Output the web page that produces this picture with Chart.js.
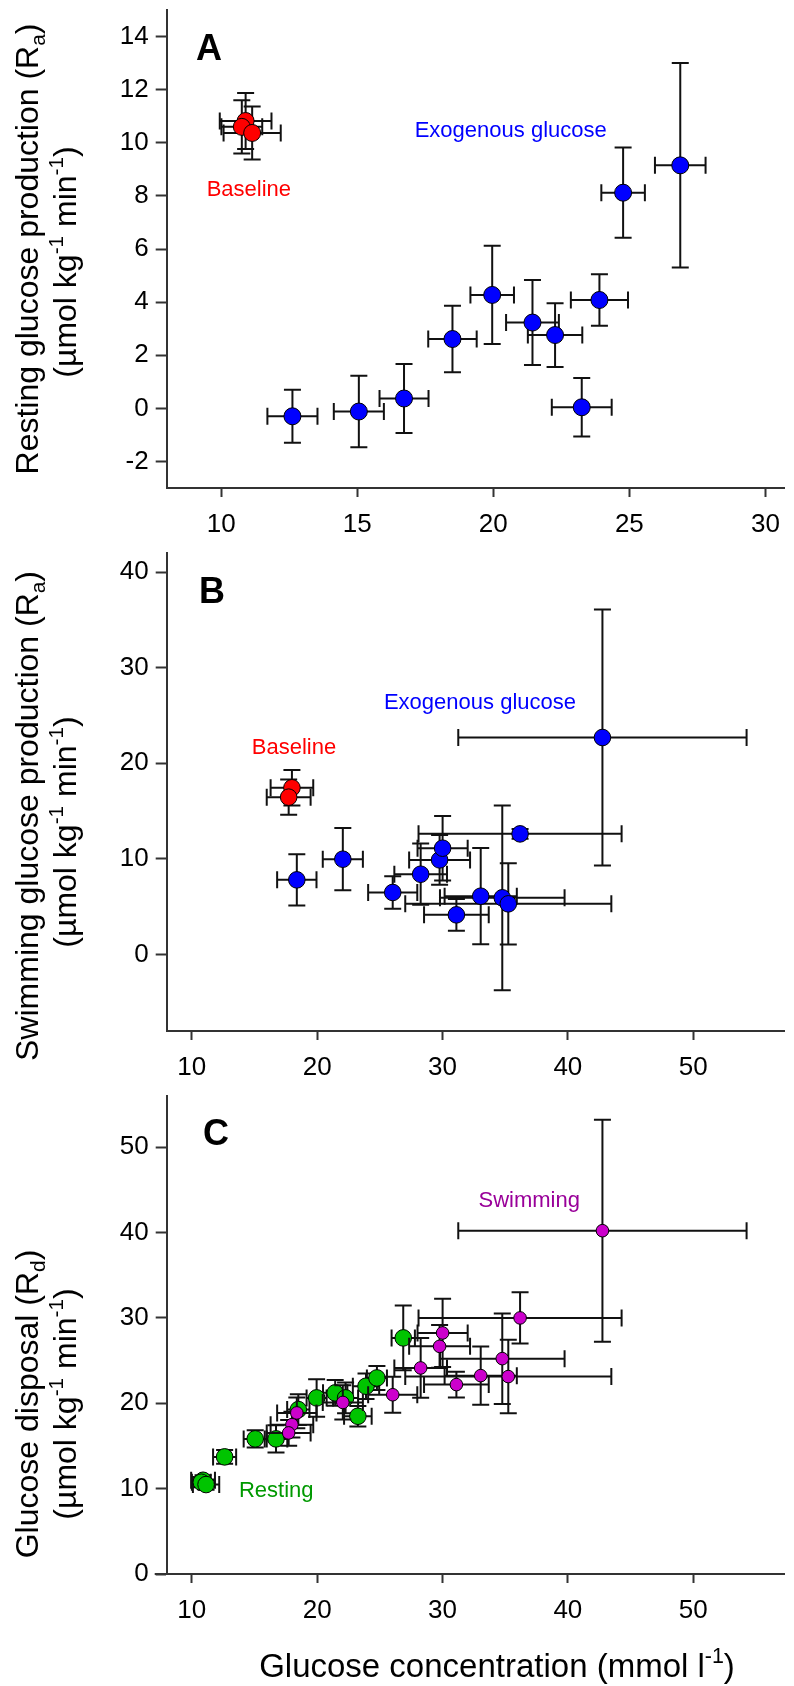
<!DOCTYPE html>
<html>
<head>
<meta charset="utf-8">
<title>Glucose production and disposal vs glucose concentration</title>
<script src="https://cdn.jsdelivr.net/npm/chart.js@4.4.1/dist/chart.umd.min.js"></script>
<style>
  html, body { margin: 0; padding: 0; background: #ffffff; }
  #wrap { position: relative; width: 794px; height: 1686px; overflow: hidden; }
  #wrap canvas { position: absolute; left: 0; }
</style>
</head>
<body>
<div id="wrap">
  <canvas id="panelA"></canvas>
  <canvas id="panelB"></canvas>
  <canvas id="panelC"></canvas>
</div>
<script>
// ---------- Panel A: resting glucose production (Ra) ----------
const restBaseConc    = [10.90, 10.76, 11.14];
const restBaseConcErr = [0.95, 0.75, 1.05];
const restBaseRa      = [10.82, 10.60, 10.37];
const restBaseRaErr   = [1.05, 1.00, 1.00];

const restExoConc    = [12.62, 15.06, 16.72, 18.50, 19.96, 21.44, 22.27, 23.90, 23.25, 24.77, 26.87];
const restExoConcErr = [0.92, 0.92, 0.90, 0.89, 0.80, 0.97, 1.00, 1.05, 1.10, 0.80, 0.93];
const restExoRa      = [-0.30, -0.12, 0.37, 2.61, 4.27, 3.23, 2.76, 4.08, 0.04, 8.12, 9.15];
const restExoRaErr   = [1.00, 1.35, 1.30, 1.25, 1.85, 1.60, 1.20, 0.97, 1.10, 1.70, 3.85];

// ---------- Panel B: swimming glucose production (Ra) ----------
const swimBaseConc    = [17.99, 17.73];
const swimBaseConcErr = [1.70, 1.75];
const swimBaseRa      = [17.44, 16.46];
const swimBaseRaErr   = [1.85, 1.85];

const swimExoConc    = [18.38, 22.05, 26.03, 28.26, 29.77, 30.01, 31.11, 33.05, 34.77, 35.25, 36.19, 42.76];
const swimExoConcErr = [1.57, 1.60, 1.96, 2.10, 2.43, 2.00, 2.58, 2.88, 4.97, 8.22, 8.10, 11.50];
const swimExoRa      = [7.81, 9.97, 6.49, 8.40, 9.90, 11.12, 4.15, 6.10, 5.93, 5.30, 12.62, 22.70];
const swimExoRaErr   = [2.67, 3.26, 1.70, 3.20, 2.60, 3.37, 1.67, 5.03, 9.67, 4.24, 0.50, 13.40];

// ---------- Panel C: glucose disposal (Rd) ----------
const restBaseRd    = [10.98, 10.75, 10.48];
const restBaseRdErr = [0.60, 0.60, 0.60];
const restExoRd     = [13.72, 15.83, 15.83, 19.26, 20.63, 21.22, 20.63, 22.00, 18.48, 22.97, 27.66];
const restExoRdErr  = [0.80, 1.00, 1.60, 1.80, 2.20, 1.50, 1.80, 1.50, 1.20, 1.40, 3.80];

const swimBaseRd    = [17.50, 16.53];
const swimBaseRdErr = [1.50, 1.50];
const swimExoRd     = [18.87, 20.10, 21.00, 24.14, 26.67, 28.24, 22.19, 23.24, 25.23, 23.13, 30.00, 40.22];
const swimExoRdErr  = [1.80, 2.00, 2.10, 3.50, 2.50, 4.00, 1.50, 3.40, 5.30, 4.30, 3.00, 13.00];

// ---------- Tick labels ----------
const ticksA_x = [10, 15, 20, 25, 30];
const ticksA_y = [-2, 0, 2, 4, 6, 8, 10, 12, 14];
const ticksB_x = [10, 20, 30, 40, 50];
const ticksB_y = [0, 10, 20, 30, 40];
const ticksC_x = [10, 20, 30, 40, 50];
const ticksC_y = [0, 10, 20, 30, 40, 50];

// ---------- Styling ----------
const FONT = "'Liberation Sans', Arial, Helvetica, sans-serif";
const AXIS_COLOR = '#333333';
const BAR_COLOR = '#111111';
const CAP = 8.5;
const TITLE_SIZE = 32;

const RED = '#ff0000', BLUE = '#0000ff', GREEN = '#00c400', MAGENTA = '#cc00cc';

function points(xs, ys) { return xs.map((v, i) => ({ x: v, y: ys[i] })); }

function series(label, xs, ys, ex, ey, color, radius, order) {
  return {
    label,
    data: points(xs, ys),
    errX: ex,
    errY: ey,
    backgroundColor: color,
    borderColor: '#000000',
    pointBackgroundColor: color,
    pointBorderColor: '#000000',
    pointBorderWidth: 1,
    pointRadius: radius,
    pointHoverRadius: radius,
    showLine: false,
    order
  };
}

// Draws the x/y error bars of one dataset through the chart scales.
function drawErrorBars(chart, index) {
  const ds = chart.data.datasets[index];
  if (!ds || !ds.errX) return;
  const { ctx } = chart;
  const xs = chart.scales.x, ys = chart.scales.y;
  ctx.save();
  ctx.strokeStyle = BAR_COLOR;
  ctx.lineWidth = 2;
  ctx.lineCap = 'butt';
  ds.data.forEach((p, i) => {
    const px = xs.getPixelForValue(p.x), py = ys.getPixelForValue(p.y);
    const ex = ds.errX[i], ey = ds.errY[i];
    const xl = xs.getPixelForValue(p.x - ex), xr = xs.getPixelForValue(p.x + ex);
    const yt = ys.getPixelForValue(p.y + ey), yb = ys.getPixelForValue(p.y - ey);
    ctx.beginPath();
    if (ex > 0) {
      ctx.moveTo(xl, py); ctx.lineTo(xr, py);
      ctx.moveTo(xl, py - CAP); ctx.lineTo(xl, py + CAP);
      ctx.moveTo(xr, py - CAP); ctx.lineTo(xr, py + CAP);
    }
    if (ey > 0) {
      ctx.moveTo(px, yt); ctx.lineTo(px, yb);
      ctx.moveTo(px - CAP, yt); ctx.lineTo(px + CAP, yt);
      ctx.moveTo(px - CAP, yb); ctx.lineTo(px + CAP, yb);
    }
    ctx.stroke();
  });
  ctx.restore();
}

// Draws a line of mixed-size text (sub/superscripts), centred on (cx, cy).
function drawRuns(ctx, runs, size, cx, cy, rotate) {
  ctx.save();
  ctx.translate(cx, cy);
  if (rotate) ctx.rotate(-Math.PI / 2);
  ctx.textAlign = 'left';
  ctx.textBaseline = 'alphabetic';
  let total = 0;
  const parts = runs.map(r => {
    const s = size * (r.scale || 1);
    ctx.font = s + 'px ' + FONT;
    const w = ctx.measureText(r.t).width;
    total += w;
    return { t: r.t, s, w, dy: (r.dy || 0) * size };
  });
  let x = -total / 2;
  parts.forEach(p => {
    ctx.font = p.s + 'px ' + FONT;
    ctx.fillStyle = '#000000';
    ctx.fillText(p.t, x, p.dy);
    x += p.w;
  });
  ctx.restore();
}

const SUB = { scale: 0.65, dy: 0.22 };
const SUP = { scale: 0.65, dy: -0.42 };
const unitsRuns = [
  { t: '(\u00b5mol kg' }, { t: '-1', ...SUP }, { t: ' min' }, { t: '-1', ...SUP }, { t: ')' }
];

const decorPlugin = {
  id: 'panelDecor',
  beforeDatasetDraw(chart, args) {
    drawErrorBars(chart, args.index);
  },
  afterDraw(chart, args, opts) {
    const { ctx } = chart;
    const off = opts.top;
    const xs = chart.scales.x, ys = chart.scales.y;
    // panel letter
    ctx.save();
    ctx.font = 'bold ' + opts.letterSize + 'px ' + FONT;
    ctx.fillStyle = '#000000';
    ctx.textAlign = 'left';
    ctx.textBaseline = 'alphabetic';
    ctx.fillText(opts.letter, opts.letterX, opts.letterY - off);
    // in-plot notes, anchored in data units
    ctx.font = '22px ' + FONT;
    ctx.textAlign = 'center';
    opts.notes.forEach(n => {
      ctx.fillStyle = n.color;
      ctx.fillText(n.text, xs.getPixelForValue(n.x), ys.getPixelForValue(n.y));
    });
    // x-axis extension to the left of the y axis
    if (opts.extendX) {
      ctx.strokeStyle = AXIS_COLOR;
      ctx.lineWidth = 2;
      ctx.beginPath();
      const yb = chart.chartArea.bottom;
      ctx.moveTo(chart.chartArea.left - opts.extendX, yb);
      ctx.lineTo(chart.chartArea.left, yb);
      ctx.stroke();
    }
    ctx.restore();
    // y-axis title (two lines)
    drawRuns(ctx, opts.yTitle1, TITLE_SIZE, opts.yTitleX[0], opts.yTitleY[0] - off, true);
    drawRuns(ctx, unitsRuns, TITLE_SIZE, opts.yTitleX[1], opts.yTitleY[1] - off, true);
    if (opts.xTitle) {
      drawRuns(ctx, opts.xTitle, 33, opts.xTitlePos[0], opts.xTitlePos[1] - off, false);
    }
  }
};

function makePanel(cfg) {
  const canvas = document.getElementById(cfg.id);
  canvas.width = 794;
  canvas.height = cfg.height;
  canvas.style.top = cfg.top + 'px';
  canvas.style.width = '794px';
  canvas.style.height = cfg.height + 'px';
  const tickFont = { family: FONT, size: 26 };
  return new Chart(canvas, {
    type: 'scatter',
    data: { datasets: cfg.datasets },
    plugins: [decorPlugin],
    options: {
      responsive: false,
      animation: false,
      devicePixelRatio: 1,
      layout: { padding: { top: cfg.areaTop - cfg.top, right: 0, left: 0, bottom: 0 } },
      plugins: {
        legend: { display: false },
        tooltip: { enabled: false },
        panelDecor: Object.assign({ top: cfg.top }, cfg.decor)
      },
      scales: {
        x: {
          type: 'linear',
          position: 'bottom',
          min: cfg.xMin, max: cfg.xMax,
          afterBuildTicks: s => { s.ticks = cfg.xTicks.map(v => ({ value: v })); },
          afterFit: s => { s.height = cfg.top + cfg.height - cfg.areaBottom; },
          grid: { drawOnChartArea: false, drawTicks: true, tickLength: 9, tickWidth: 2, tickColor: AXIS_COLOR },
          border: { display: true, color: AXIS_COLOR, width: 2 },
          ticks: { font: tickFont, color: '#000000', padding: 12, maxRotation: 0, autoSkip: false }
        },
        y: {
          type: 'linear',
          position: 'left',
          min: cfg.yMin, max: cfg.yMax,
          afterBuildTicks: s => { s.ticks = cfg.yTicks.map(v => ({ value: v })); },
          afterFit: s => { s.width = 166.7; },
          grid: { drawOnChartArea: false, drawTicks: true, tickLength: 11, tickWidth: 2, tickColor: AXIS_COLOR },
          border: { display: true, color: AXIS_COLOR, width: 2 },
          ticks: { font: tickFont, color: '#000000', padding: 7, autoSkip: false }
        }
      }
    }
  });
}

makePanel({
  id: 'panelA', top: -30, height: 575, areaTop: 10, areaBottom: 488,
  xMin: 8, xMax: 30.7, yMin: -3, yMax: 15,
  xTicks: ticksA_x, yTicks: ticksA_y,
  datasets: [
    series('Exogenous glucose', restExoConc, restExoRa, restExoConcErr, restExoRaErr, BLUE, 8.5, 1),
    series('Baseline', restBaseConc, restBaseRa, restBaseConcErr, restBaseRaErr, RED, 8.5, 2)
  ],
  decor: {
    letter: 'A', letterSize: 36, letterX: 196, letterY: 60,
    notes: [
      { text: 'Baseline', color: RED, x: 11.02, y: 7.98 },
      { text: 'Exogenous glucose', color: BLUE, x: 20.64, y: 10.22 }
    ],
    yTitle1: [{ t: 'Resting glucose production (R' }, { t: 'a', ...SUB }, { t: ')' }],
    yTitleX: [38, 76], yTitleY: [249, 262]
  }
});

makePanel({
  id: 'panelB', top: 510, height: 575, areaTop: 553, areaBottom: 1031,
  xMin: 8, xMax: 57.3, yMin: -8, yMax: 42,
  xTicks: ticksB_x, yTicks: ticksB_y,
  datasets: [
    series('Exogenous glucose', swimExoConc, swimExoRa, swimExoConcErr, swimExoRaErr, BLUE, 8.3, 1),
    series('Baseline', swimBaseConc, swimBaseRa, swimBaseConcErr, swimBaseRaErr, RED, 8.3, 2)
  ],
  decor: {
    letter: 'B', letterSize: 36, letterX: 199, letterY: 603,
    notes: [
      { text: 'Baseline', color: RED, x: 18.15, y: 21.0 },
      { text: 'Exogenous glucose', color: BLUE, x: 32.99, y: 25.73 }
    ],
    yTitle1: [{ t: 'Swimming glucose production (R' }, { t: 'a', ...SUB }, { t: ')' }],
    yTitleX: [38, 76], yTitleY: [816, 832]
  }
});

makePanel({
  id: 'panelC', top: 1056, height: 630, areaTop: 1096, areaBottom: 1574,
  xMin: 8, xMax: 57.3, yMin: 0, yMax: 56,
  xTicks: ticksC_x, yTicks: ticksC_y,
  datasets: [
    series('Swimming', swimExoConc.concat(swimBaseConc), swimExoRd.concat(swimBaseRd),
           swimExoConcErr.concat(swimBaseConcErr), swimExoRdErr.concat(swimBaseRdErr), MAGENTA, 6.3, 1),
    series('Resting', restExoConc.concat(restBaseConc), restExoRd.concat(restBaseRd),
           restExoConcErr.concat(restBaseConcErr), restExoRdErr.concat(restBaseRdErr), GREEN, 8.3, 2)
  ],
  decor: {
    letter: 'C', letterSize: 36, letterX: 203, letterY: 1145,
    notes: [
      { text: 'Swimming', color: '#990099', x: 36.92, y: 43.03 },
      { text: 'Resting', color: '#009900', x: 16.74, y: 9.07 }
    ],
    extendX: 12,
    yTitle1: [{ t: 'Glucose disposal (R' }, { t: 'd', ...SUB }, { t: ')' }],
    yTitleX: [38, 76], yTitleY: [1404, 1404],
    xTitle: [{ t: 'Glucose concentration (mmol l' }, { t: '-1', ...SUP }, { t: ')' }],
    xTitlePos: [497, 1677]
  }
});
</script>
</body>
</html>
